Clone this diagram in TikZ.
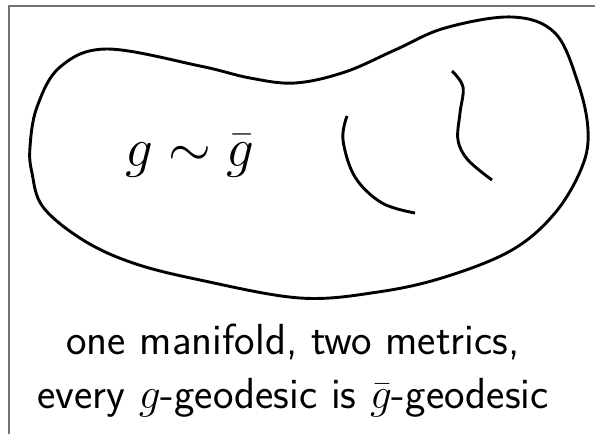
\RequirePackage{fix-cm}
\documentclass[tikz,border=0pt]{standalone}
\usepackage{fontspec}
\begin{document}
\begin{tikzpicture}[x=1pt,y=-1pt,
  frame/.style={draw=gray!110,line width=1.2pt},
  blob/.style={draw=black,line width=2.9pt},
  geod/.style={draw=black,line width=2.9pt},
  captext/.style={font=\sffamily\fontsize{43.5}{54}\selectfont,anchor=base,inner sep=0pt},
  mathlbl/.style={font=\fontsize{55}{60}\selectfont,anchor=base,inner sep=0pt}]
\useasboundingbox (0,0) rectangle (595,434);
\draw[frame] (9,434) -- (9,6) -- (595,6);
\draw[blob] plot[smooth cycle,tension=0.6] coordinates {
  (107,49) (200,66) (250,78) (295,83) (345,72) (395,50) (445,28) (512,17)
  (555,33) (578,83) (588,130) (582,167) (555,213) (512,250) (445,277)
  (378,292) (300,298) (200,280) (133,263) (83,240) (43,207) (32,173)
  (30,147) (37,107) (60,67)};
\draw[geod] plot[smooth,tension=0.6] coordinates {(347,116) (343,140) (355,177) (382,203) (415,213)};
\draw[geod] plot[smooth,tension=0.6] coordinates {(452,71) (463,87) (460,113) (458,140) (468,160) (492,180)};
\node[mathlbl] (rel) at (190,166) {$g\sim\bar g$};
\node[captext] (line1) at (293,354) {one manifold, two metrics,};
\node[captext] (line2) at (293,408) {every $g$-geodesic is $\bar g$-geodesic};
\end{tikzpicture}
\end{document}
